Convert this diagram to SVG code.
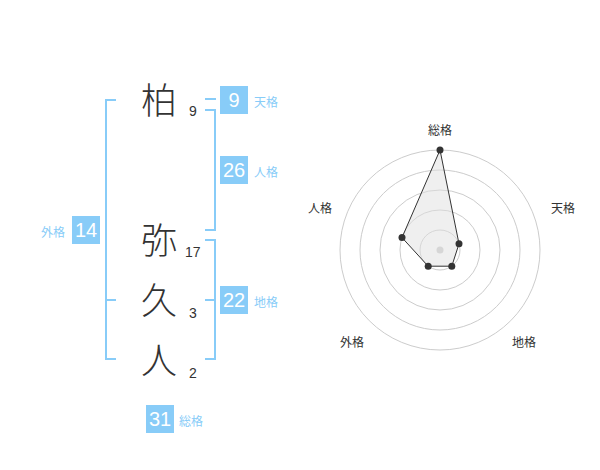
<svg xmlns="http://www.w3.org/2000/svg" width="600" height="470" viewBox="0 0 600 470">
<style>
.ch{font-family:"Noto Sans CJK JP","Noto Sans CJK SC",sans-serif;font-size:36px;font-weight:300;fill:#333;text-anchor:middle}
.num{font-family:"Liberation Sans",Arial,sans-serif;font-size:14px;fill:#333}
.br{fill:none;stroke:#88ccf8;stroke-width:2}
.box{fill:#88ccf8}
.bt{font-family:"Liberation Sans",Arial,sans-serif;font-size:20px;fill:#fff;text-anchor:middle}
.lb{font-family:"Noto Sans CJK JP","Noto Sans CJK SC",sans-serif;font-size:12px;fill:#88ccf8}
.rl{font-family:"Noto Sans CJK JP","Noto Sans CJK SC",sans-serif;font-size:12px;fill:#333;text-anchor:middle}
.ring{fill:none;stroke:#ccc;stroke-width:1}
.pt{fill:#333}
</style>
<rect width="600" height="470" fill="#fff"/>
<g id="chars">
<g id="c1"><text class="ch" x="159" y="114">柏</text><text class="num" x="189" y="116">9</text></g>
<g id="c2"><text class="ch" x="159" y="254">弥</text><text class="num" x="185" y="257">17</text></g>
<g id="c3"><text class="ch" x="159" y="314">久</text><text class="num" x="189" y="318">3</text></g>
<g id="c4"><text class="ch" x="159" y="374">人</text><text class="num" x="189" y="378">2</text></g>
</g>
<g id="connectors">
<path class="br" d="M116,100 H106 V359 H116 M106,300 H116"/>
<path class="br" d="M205,99 H216"/>
<path class="br" d="M205,110 H215 V230 H205"/>
<path class="br" d="M205,240 H215 V359 H205 M205,300 H215"/>
</g>
<g id="tenkaku"><rect class="box" x="220" y="86" width="28" height="28"/><text class="bt" x="234" y="107">9</text><text class="lb" x="254" y="107">天格</text></g>
<g id="jinkaku"><rect class="box" x="220" y="156" width="28" height="28"/><text class="bt" x="234" y="177">26</text><text class="lb" x="254" y="177">人格</text></g>
<g id="gaikaku"><rect class="box" x="72" y="216" width="28" height="28"/><text class="bt" x="86" y="237">14</text><text class="lb" x="41" y="237">外格</text></g>
<g id="chikaku"><rect class="box" x="220" y="286" width="28" height="28"/><text class="bt" x="234" y="307">22</text><text class="lb" x="254" y="307">地格</text></g>
<g id="soukaku"><rect class="box" x="146" y="405" width="28" height="28"/><text class="bt" x="160" y="426">31</text><text class="lb" x="179" y="426">総格</text></g>
<g id="radar">
<circle class="ring" cx="440" cy="250" r="20"/>
<circle class="ring" cx="440" cy="250" r="40"/>
<circle class="ring" cx="440" cy="250" r="60"/>
<circle class="ring" cx="440" cy="250" r="80"/>
<circle class="ring" cx="440" cy="250" r="100"/>
<circle cx="440" cy="250" r="3.5" fill="#ccc"/>
<polygon points="440,150 459,243.8 451.8,266.2 428.2,266.2 402,237.6" fill="#e0e0e0" fill-opacity="0.5" stroke="#333" stroke-width="1"/>
<circle class="pt" cx="440" cy="150" r="3.5"/>
<circle class="pt" cx="459" cy="243.8" r="3.5"/>
<circle class="pt" cx="451.8" cy="266.2" r="3.5"/>
<circle class="pt" cx="428.2" cy="266.2" r="3.5"/>
<circle class="pt" cx="402" cy="237.6" r="3.5"/>
<text class="rl" x="440" y="135">総格</text>
<text class="rl" x="563" y="213">天格</text>
<text class="rl" x="320" y="213">人格</text>
<text class="rl" x="352" y="347">外格</text>
<text class="rl" x="524" y="347">地格</text>
</g>
</svg>
